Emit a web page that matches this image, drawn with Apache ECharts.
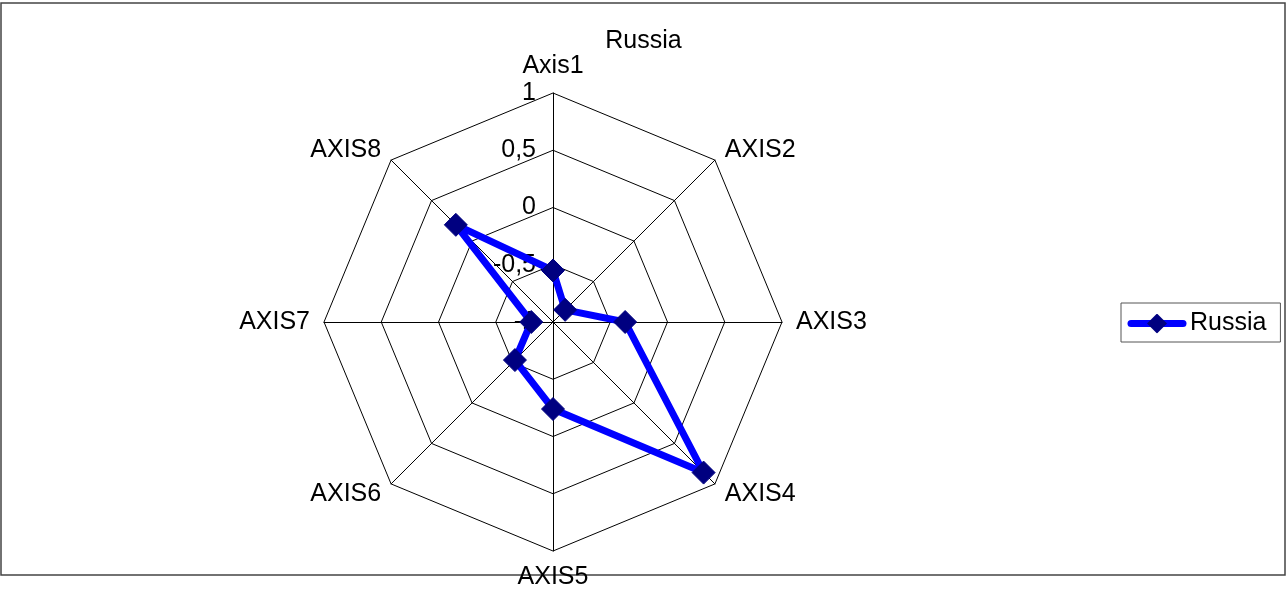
<!DOCTYPE html>
<html>
<head>
<meta charset="utf-8">
<script src="https://cdn.jsdelivr.net/npm/echarts@6/dist/echarts.min.js"></script>
<style>
  html, body { margin: 0; padding: 0; background: #fff; }
  #main { width: 1287px; height: 592px; }
</style>
</head>
<body>
<div id="main"></div>
<script>
// axes, clockwise from the top
var axisNames = ['Axis1', 'AXIS2', 'AXIS3', 'AXIS4', 'AXIS5', 'AXIS6', 'AXIS7', 'AXIS8'];
var russia = [-0.55, -0.85, -0.37, 0.86, -0.24, -0.53, -0.81, 0.2];
var axisMin = -1;
var axisMax = 1;

// echarts lays radar axes counter-clockwise, so walk them backwards after the first
var order = [0];
for (var i = axisNames.length - 1; i > 0; i--) order.push(i);

var indicators = order.map(function (k, n) {
    var ind = { name: axisNames[k], min: axisMin, max: axisMax };
    if (n == 0) {
        ind.axisLabel = {
            show: true,
            margin: 17,
            color: '#000',
            fontSize: 25,
            fontFamily: 'Liberation Sans, Arial',
            formatter: function (v) { return String(v).replace('.', ','); }
        };
    }
    return ind;
});
var values = order.map(function (k) { return russia[k]; });

// legend icon: blue line with a navy diamond, like the excel legend
var legendIcon = 'image://data:image/svg+xml;utf8,' +
    "<svg xmlns='http://www.w3.org/2000/svg' width='60' height='20'>" +
    "<line x1='4' y1='10' x2='56' y2='10' stroke='%230000ff' stroke-width='7' stroke-linecap='round'/>" +
    "<path d='M30 0 L40 10 L30 20 L20 10 Z' fill='%23000080'/></svg>";

var myChart = echarts.init(document.getElementById('main'));
var option = {
    backgroundColor: '#fff',
    animation: false,
    title: {
        text: 'Russia',
        left: 'center',
        top: 24,
        textStyle: { fontSize: 25, fontWeight: 'normal', color: '#000', fontFamily: 'Liberation Sans, Arial' }
    },
    legend: {
        data: [{ name: 'Russia', icon: legendIcon }],
        left: 1121,
        top: 303,
        padding: [8, 14, 6, 6],
        borderColor: '#555',
        borderWidth: 1,
        itemWidth: 60,
        itemHeight: 20,
        itemGap: 0,
        textStyle: { fontSize: 25, color: '#000', fontFamily: 'Liberation Sans, Arial', padding: [0, 0, 0, -2] }
    },
    radar: {
        center: [553, 322],
        radius: 229,
        startAngle: 90,
        splitNumber: 4,
        shape: 'polygon',
        indicator: indicators,
        axisName: { color: '#000', fontSize: 25, fontFamily: 'Liberation Sans, Arial' },
        nameGap: 14,
        axisLine: { lineStyle: { color: '#000', width: 1 } },
        splitLine: { lineStyle: { color: '#000', width: 1 } },
        splitArea: { show: false },
        axisLabel: { show: false }
    },
    series: [{
        name: 'Russia',
        type: 'radar',
        symbol: 'diamond',
        symbolSize: 23,
        lineStyle: { color: '#0000ff', width: 7 },
        itemStyle: { color: '#000080', borderColor: '#000080' },
        data: [{ name: 'Russia', value: values }]
    }],
    graphic: [{
        type: 'rect',
        shape: { x: 1, y: 3, width: 1284, height: 572 },
        style: { fill: null, stroke: '#444', lineWidth: 1.5 },
        silent: true
    }]
};
myChart.setOption(option);
</script>
</body>
</html>
